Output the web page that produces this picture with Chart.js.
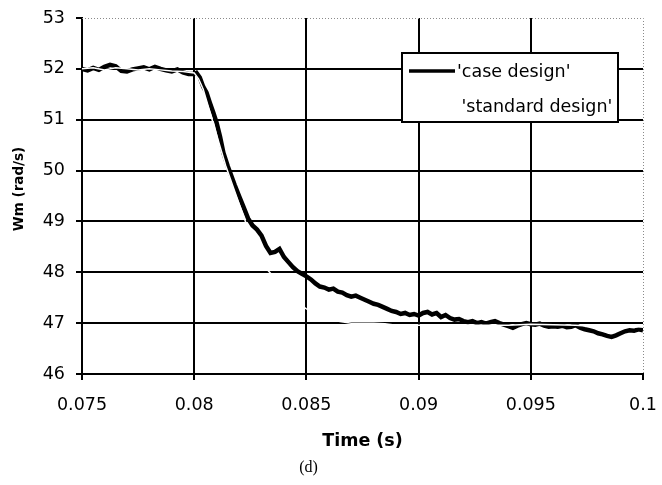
<!DOCTYPE html>
<html><head><meta charset="utf-8">
<script src="https://cdn.jsdelivr.net/npm/chart.js@4.4.0/dist/chart.umd.min.js"></script>
<style>html,body{margin:0;padding:0;background:#fff;}#wrap{width:662px;height:485px;}</style>
</head><body><div id="wrap"><canvas id="c" width="662" height="485"></canvas></div>
<script>
const seriesNames = ["'case design'", "'standard design'"];
const xTitle = 'Time (s)';
const yTitle = 'Wm (rad/s)';
const caption = '(d)';
const xTickValues = [0.075, 0.08, 0.085, 0.09, 0.095, 0.1];
const xTickLabels = ['0.075', '0.08', '0.085', '0.09', '0.095', '0.1'];
const yTickValues = [46, 47, 48, 49, 50, 51, 52, 53];

const timeCase = [
  0.0750,0.07525,0.0755,0.07575,0.0760,0.07625,0.0765,0.07675,0.0770,0.07725,
  0.0775,0.07775,0.0780,0.07825,0.0785,0.07875,0.0790,0.07925,0.0795,0.07975,
  0.0800,0.0801,0.08025,0.0804,0.08055,0.0807,0.08085,0.0810,0.08115,0.0813,
  0.0815,0.0816,0.0818,0.0820,0.0822,0.0824,0.0826,0.0828,0.0830,0.0832,0.0834,
  0.0836,0.0838,0.0840,0.0842,0.0844,0.0846,0.0848,0.0850,0.0852,0.0854,
  0.0856,0.0858,0.0860,0.0862,0.0864,0.0866,0.0868,0.0870,0.0872,0.0874,
  0.0876,0.0878,0.0880,0.0882,0.0884,0.0886,0.0888,0.0890,0.0892,0.0894,
  0.0896,0.0898,0.0900,0.0902,0.0904,0.0906,0.0908,0.0910,0.0912,0.0914,
  0.0916,0.0918,0.0920,0.0922,0.0924,0.0926,0.0928,0.0930,0.0932,0.0934,
  0.0936,0.0938,0.0940,0.0942,0.0944,0.0946,0.0948,0.0950,0.0952,0.0954,
  0.0956,0.0958,0.0960,0.0962,0.0964,0.0966,0.0968,0.0970,0.0972,0.0974,
  0.0976,0.0978,0.0980,0.0982,0.0984,0.0986,0.0988,0.0990,0.0992,0.0994,
  0.0996,0.0998,0.1000
];
const wmCase = [
  52.00,51.97,52.02,51.98,52.04,52.08,52.05,51.96,51.95,51.99,
  52.01,52.03,51.99,52.04,52.00,51.97,51.95,51.99,51.93,51.90,
  51.90,51.92,51.83,51.65,51.53,51.33,51.14,50.94,50.67,50.35,
  50.08,49.96,49.72,49.50,49.28,49.06,48.92,48.84,48.72,48.52,48.38,
  48.40,48.46,48.30,48.20,48.10,48.02,47.97,47.92,47.86,47.78,
  47.72,47.70,47.66,47.68,47.62,47.60,47.55,47.52,47.54,47.50,
  47.46,47.42,47.38,47.36,47.32,47.28,47.24,47.22,47.18,47.20,
  47.16,47.18,47.15,47.20,47.22,47.17,47.20,47.12,47.16,47.10,
  47.07,47.08,47.04,47.02,47.04,47.00,47.02,46.99,47.02,47.04,
  47.00,46.97,46.94,46.91,46.95,46.98,47.00,46.98,46.97,46.99,
  46.95,46.93,46.94,46.93,46.95,46.92,46.93,46.96,46.91,46.88,
  46.86,46.84,46.80,46.78,46.75,46.73,46.76,46.80,46.84,46.86,
  46.85,46.88,46.86
];
const timeStd = [
  0.0750,0.0755,0.0760,0.0765,0.0770,0.0775,0.0780,0.0785,0.0790,0.0795,0.0800,
  0.0802,0.0804,0.0806,0.0808,0.0810,0.0812,0.0814,0.0816,0.0818,0.0820,
  0.0822,0.0824,0.0826,0.0828,0.0830,0.0832,0.0834,
  0.0838,0.0842,0.0846,0.0850,0.0855,0.0860,0.0865,0.0870,
  0.0880,0.0885,0.0890,0.0900,0.0910,0.0920,0.0930,0.0940,0.0950,0.0960,0.0970,0.0980,0.0990,0.1000
];
const wmStd = [
  52.00,52.02,51.98,52.02,52.00,51.98,52.00,51.98,51.96,51.95,51.92,
  51.80,51.60,51.30,51.00,50.70,50.40,50.10,49.85,49.60,49.35,
  49.10,48.85,48.60,48.40,48.22,48.08,47.98,
  47.75,47.55,47.40,47.28,47.17,47.09,47.03,47.00,
  47.00,46.99,46.96,46.96,46.96,46.96,46.96,46.96,46.98,46.97,46.96,46.93,46.92,46.93
];

const caseData = timeCase.map((t, i) => ({x: t, y: wmCase[i]}));
const stdData = timeStd.map((t, i) => ({x: t, y: wmStd[i]}));

const framePlugin = {
  id: 'frame',
  beforeDatasetsDraw(chart) {
    const {ctx, chartArea: a} = chart;
    ctx.save();
    ctx.strokeStyle = '#8a8a8a';
    ctx.lineWidth = 1;
    ctx.setLineDash([1, 2]);
    ctx.beginPath();
    ctx.moveTo(a.left, Math.round(a.top) + 0.5);
    ctx.lineTo(Math.round(a.right) + 0.5, Math.round(a.top) + 0.5);
    ctx.lineTo(Math.round(a.right) + 0.5, a.bottom);
    ctx.stroke();
    ctx.restore();
  },
  afterDraw(chart) {
    const ctx = chart.ctx;
    ctx.save();
    const bx = 402, by = 53, bw = 216, bh = 69;
    ctx.fillStyle = '#fff';
    ctx.fillRect(bx, by, bw, bh);
    ctx.strokeStyle = '#000';
    ctx.lineWidth = 2;
    ctx.strokeRect(bx, by, bw, bh);
    const rows = [71, 106.5];
    const textX = [457, 461.5];
    chart.data.datasets.forEach((ds, i) => {
      ctx.strokeStyle = ds.borderColor;
      ctx.lineWidth = 3.5;
      ctx.setLineDash([]);
      ctx.beginPath();
      ctx.moveTo(409, rows[i]);
      ctx.lineTo(455, rows[i]);
      ctx.stroke();
      ctx.fillStyle = '#000';
      ctx.font = '17.5px "DejaVu Sans"';
      ctx.textAlign = 'left';
      ctx.textBaseline = 'middle';
      ctx.fillText(ds.label, textX[i], rows[i] + 1);
    });
    ctx.font = '16px "Liberation Serif"';
    ctx.textAlign = 'center';
    ctx.textBaseline = 'middle';
    ctx.fillStyle = '#000';
    ctx.fillText(caption, 308.5, 468);
    ctx.restore();
  }
};

new Chart(document.getElementById('c').getContext('2d'), {
  type: 'line',
  data: {
    datasets: [
      {label: seriesNames[0], data: caseData, borderColor: '#000000', borderWidth: 4.5, pointRadius: 0, tension: 0, order: 2, fill: false},
      {label: seriesNames[1], data: stdData, borderColor: '#ffffff', borderWidth: 1.5, pointRadius: 0, tension: 0, order: 1, fill: false}
    ]
  },
  options: {
    responsive: false,
    animation: false,
    devicePixelRatio: 1,
    layout: {padding: {left: 0, right: 19, top: 18, bottom: 0}},
    plugins: {legend: {display: false}, tooltip: {enabled: false}, title: {display: false}},
    scales: {
      x: {
        type: 'linear', min: 0.075, max: 0.1,
        afterBuildTicks: s => { s.ticks = xTickValues.map(v => ({value: v})); },
        afterFit: s => { s.height = 111; s.paddingLeft = 0; s.paddingRight = 0; },
        ticks: {
          callback: (v, i) => xTickLabels[i],
          color: '#000', font: {family: 'DejaVu Sans', size: 17.5},
          padding: 15, maxRotation: 0, minRotation: 0, autoSkip: false
        },
        grid: {
          color: c => (c.tick && c.tick.value === 0.1) ? 'rgba(0,0,0,0)' : '#000',
          lineWidth: 2, tickLength: 6, tickColor: '#000', tickWidth: 2
        },
        border: {display: true, color: '#000', width: 2},
        title: {display: true, text: xTitle, color: '#000',
          font: {family: 'DejaVu Sans', size: 17.5, weight: 'bold'}, padding: {top: 0, bottom: 33}}
      },
      y: {
        min: 46, max: 53,
        afterBuildTicks: s => { s.ticks = yTickValues.map(v => ({value: v})); },
        afterFit: s => { s.width = 82; s.paddingTop = 0; s.paddingBottom = 0; },
        ticks: {color: '#000', font: {family: 'DejaVu Sans', size: 17.5}, padding: 11, callback: v => String(v)},
        grid: {
          color: c => (c.tick && c.tick.value === 53) ? 'rgba(0,0,0,0)' : '#000',
          lineWidth: 2, tickLength: 6, tickColor: '#000', tickWidth: 2
        },
        border: {display: true, color: '#000', width: 2},
        title: {display: true, text: '   ' + yTitle, color: '#000',
          font: {family: 'DejaVu Sans', size: 13.5, weight: 'bold'}, padding: {top: 11, bottom: 0}}
      }
    }
  },
  plugins: [framePlugin]
});
</script>
</body></html>
